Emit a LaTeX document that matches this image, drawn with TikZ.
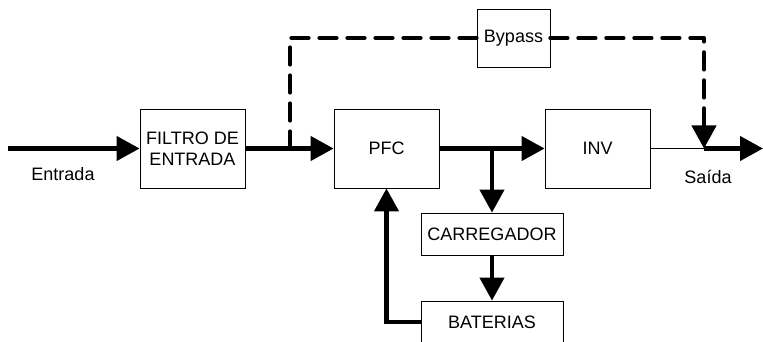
\documentclass[tikz,border=0pt]{standalone}
\usepackage{fontspec}
\setmainfont{Liberation Sans}
\usetikzlibrary{arrows.meta}
\begin{document}
\begin{tikzpicture}[x=1pt,y=-1pt,
  txt/.style={font=\fontsize{18}{21}\selectfont, inner sep=0pt, align=center},
  blk/.style={txt, draw, line width=0.8pt},
  bigblk/.style={blk, minimum width=105pt, minimum height=79pt},
  lowblk/.style={blk, minimum width=142pt, minimum height=42pt},
  bus/.style={line width=4.3pt},
  tipped/.style={-{Triangle[length=23pt,width=24pt]}},
  byp/.style={bus, line cap=round, line join=round, dash pattern=on 17pt off 11pt}]
\useasboundingbox (0,0) rectangle (763,342);
\node[bigblk] (filtro) at (192.5,148.5) {FILTRO DE\\ENTRADA};
\node[bigblk] (pfc) at (386.5,148.5) {PFC};
\node[bigblk] (inv) at (597.5,148.5) {INV};
\node[blk, minimum width=73pt, minimum height=58pt] (bypass) at (513.5,38) {Bypass};
\node[lowblk] (carr) at (492,234) {CARREGADOR};
\node[lowblk] (bat) at (492,322) {BATERIAS};
\node[txt] (entrada) at (63,174) {Entrada};
\node[txt] (saida) at (708,177) {Saída};
\coordinate (in) at (8,148.5);
\coordinate (split) at (290,148.5);
\coordinate (merge) at (704,148.5);
\coordinate (out) at (763,148.5);
\coordinate (tap) at (carr.north |- pfc.east);
\draw[bus,tipped] (in) -- (filtro.west);
\draw[bus,tipped] (filtro.east) -- (pfc.west);
\draw[byp] (split) -- (split |- bypass.west) -- (bypass.west);
\draw[byp,tipped] (bypass.east) -| (merge);
\draw[line width=0.8pt] (inv.east) -- (merge);
\draw[bus,tipped] (merge) -- (out);
\draw[bus,tipped] (pfc.east) -- (inv.west);
\draw[bus,tipped] (tap) -- (carr.north);
\draw[bus,tipped] (carr.south) -- (bat.north);
\draw[bus,tipped] (bat.west) -| (pfc.south);
\end{tikzpicture}
\end{document}
